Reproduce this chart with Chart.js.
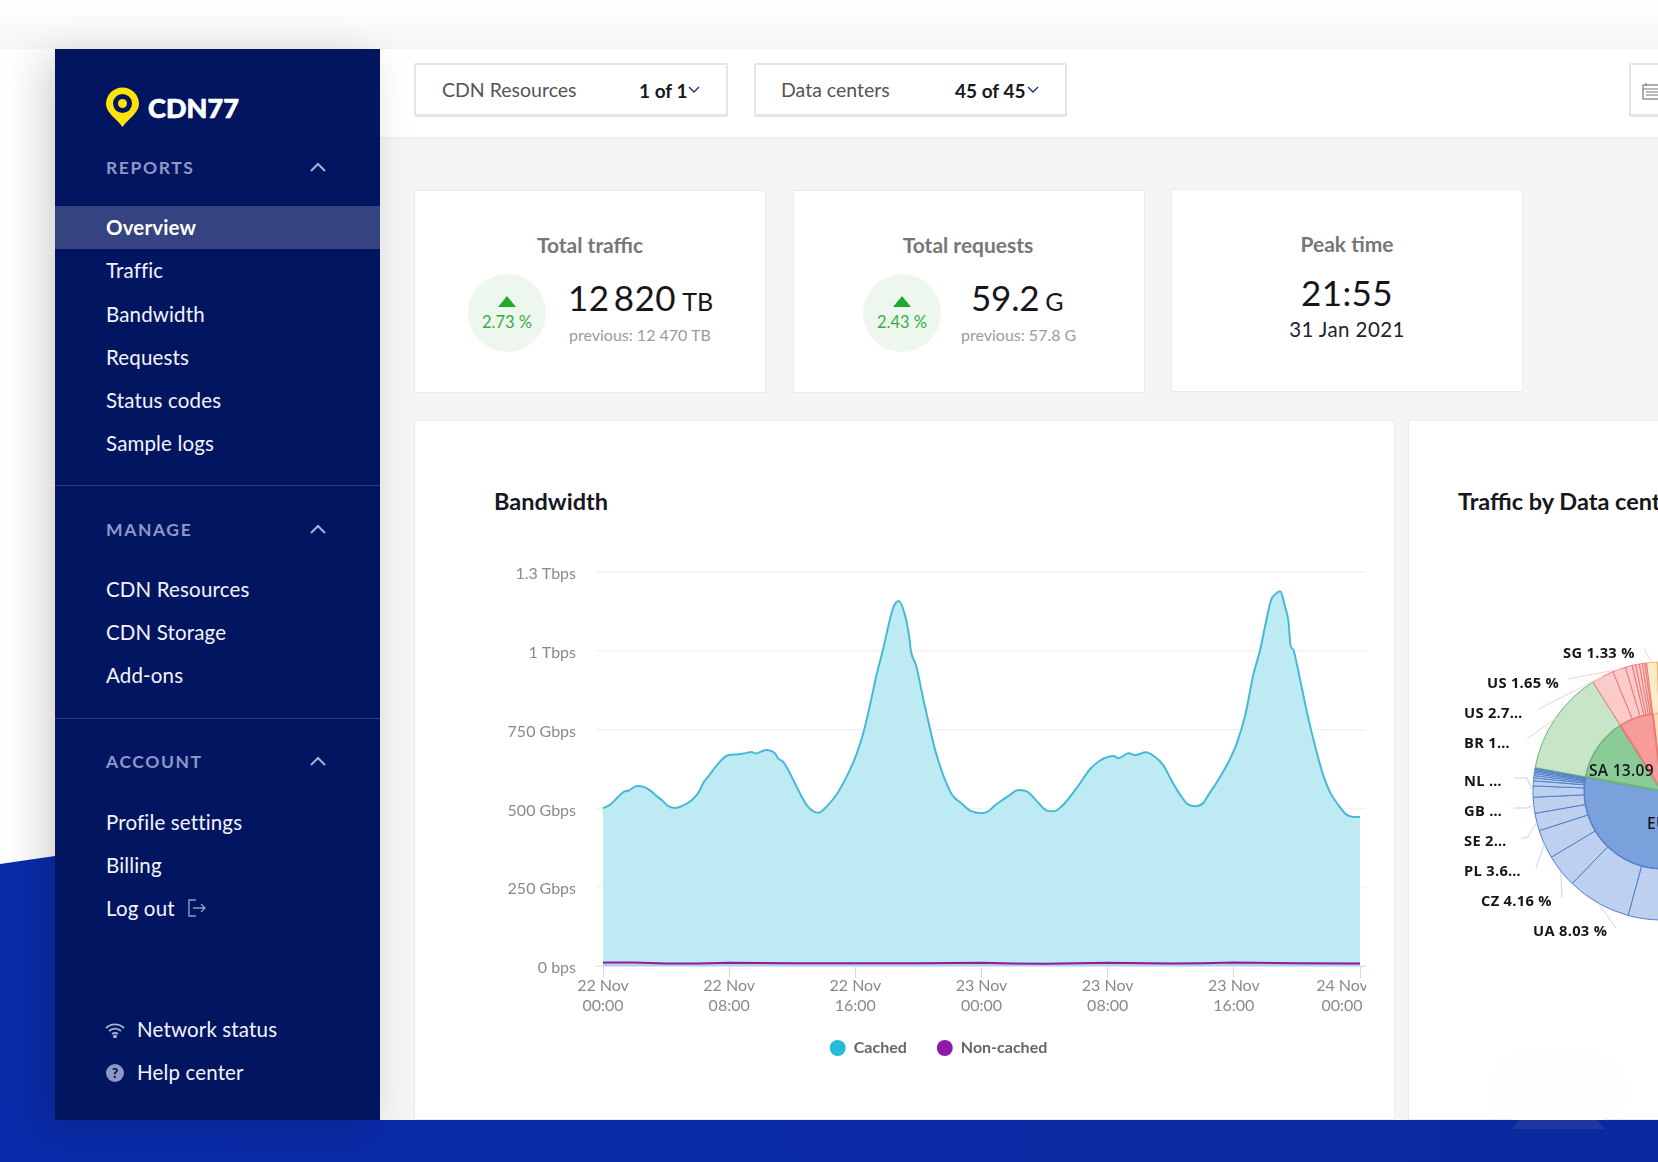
<!DOCTYPE html>
<html>
<head>
<meta charset="utf-8">
<title>CDN77 Overview</title>
<script src="https://cdn.jsdelivr.net/npm/chart.js@4"></script>
<style>
html, body { margin: 0; padding: 0; width: 1658px; height: 1162px; overflow: hidden; background: #fff; font-family: Lato, "Open Sans", sans-serif; }
.abs { position: absolute; }
.txt { position: absolute; white-space: nowrap; line-height: 1; transform: translateY(-50%); }
.ctr { transform: translate(-50%, -50%); }
#fade { left: 0; top: 0; width: 1658px; height: 49px; background: linear-gradient(#fff, #f6f6f6); }
#blue { left: 0; top: 0; width: 1658px; height: 1162px; background: linear-gradient(90deg, #0a2cab, #0a2aa0); clip-path: polygon(0 864px, 55px 856px, 55px 1120px, 1658px 1120px, 1658px 1162px, 0 1162px); }
#main { left: 380px; top: 49px; width: 1278px; height: 1071px; background: #f5f5f5; }
#topbar { left: 380px; top: 49px; width: 1278px; height: 88px; background: #fff; border-bottom: 2px solid #efefef; }
#side { left: 55px; top: 49px; width: 325px; height: 1071px; background: #021561; box-shadow: -12px 8px 40px rgba(0,0,0,.18); }
#active { left: 55px; top: 206px; width: 325px; height: 43px; background: #354480; }
.rule { left: 55px; width: 325px; height: 1px; background: #2c3c7c; }
.nav { left: 106px; color: #f2f4fa; font-size: 20.5px; letter-spacing: .15px; }
.head { left: 106px; color: #8d98c4; font-size: 17.5px; font-weight: 700; letter-spacing: 1.6px; }
.drop { height: 54px; top: 63px; background: #fff; border: 2px solid #e2e4e7; border-bottom-width: 3px; border-radius: 2px; box-sizing: border-box; }
.dl { color: #555; font-size: 19.5px; }
.dv { color: #16181f; font-size: 19px; font-weight: 700; }
.card { background: #fff; border: 1px solid #ececec; box-sizing: border-box; }
.ttl { color: #777; font-size: 21px; font-weight: 700; }
.badge { width: 78px; height: 78px; border-radius: 50%; background: #edf7ee; }
.tri { width: 0; height: 0; border-left: 9px solid transparent; border-right: 9px solid transparent; border-bottom: 11px solid #22a82f; }
.pct { color: #3aac47; font-size: 16.5px; }
.big { color: #15161c; font-size: 35px; letter-spacing: .4px; font-weight: 400; }
.big small { font-size: 25px; letter-spacing: 0; margin-left: -3px; }
.prev { color: #9b9b9b; font-size: 16px; }
h2.hd { margin: 0; color: #16181f; font-size: 23.5px; font-weight: 700; }
#bwWrap { left: 490px; top: 560px; width: 876px; height: 522px; overflow: hidden; }
#bwWrap canvas { position: absolute; left: 0; top: 0; }
#sunWrap { left: 1410px; top: 539px; width: 248px; height: 504px; overflow: hidden; }
#sunWrap canvas { position: absolute; left: 0; top: 0; }
#stand { left: 1507px; top: 1067px; width: 103px; height: 53px; background: #fdfdfd; border-radius: 8px; box-shadow: 0 0 28px rgba(0,0,0,.035); }
#foot { left: 1512px; top: 1120px; width: 93px; height: 9px; background: #20379f; clip-path: polygon(8px 0, 85px 0, 93px 9px, 0 9px); }
</style>
</head>
<body>
<div class="abs" id="fade"></div>
<div class="abs" id="blue"></div>
<div class="abs" id="main"></div>
<div class="abs" id="topbar"></div>
<div class="abs" id="side"></div>
<div class="abs" id="active"></div>
<div class="abs rule" style="top:485px"></div>
<div class="abs rule" style="top:718px"></div>

<svg class="abs" style="left:105px;top:87px" width="35" height="41" viewBox="0 0 35 41">
  <path d="M17.5 40 C12 32 1 26 1 17 A16.5 16.5 0 0 1 34 17 C34 26 23 32 17.5 40 Z" fill="#fde20c"/>
  <circle cx="17.5" cy="16.5" r="9.5" fill="#021561"/><circle cx="17.5" cy="16.5" r="4.5" fill="#fde20c"/>
</svg>
<div class="txt" style="left:148px;top:107px;color:#fff;font-size:27px;font-weight:900;letter-spacing:.1px;-webkit-text-stroke:.7px #fff">CDN77</div>

<div class="txt head" style="top:168px">REPORTS</div>
<div class="txt nav" style="top:227px;font-weight:700;color:#fff">Overview</div>
<div class="txt nav" style="top:270px">Traffic</div>
<div class="txt nav" style="top:313.5px">Bandwidth</div>
<div class="txt nav" style="top:356.5px">Requests</div>
<div class="txt nav" style="top:399.5px">Status codes</div>
<div class="txt nav" style="top:442.5px">Sample logs</div>
<div class="txt head" style="top:530px">MANAGE</div>
<div class="txt nav" style="top:589px">CDN Resources</div>
<div class="txt nav" style="top:632px">CDN Storage</div>
<div class="txt nav" style="top:675px">Add-ons</div>
<div class="txt head" style="top:762px">ACCOUNT</div>
<div class="txt nav" style="top:821.5px">Profile settings</div>
<div class="txt nav" style="top:865px">Billing</div>
<div class="txt nav" style="top:908px">Log out</div>
<div class="txt nav" style="top:1029px;left:137px">Network status</div>
<div class="txt nav" style="top:1072px;left:137px">Help center</div>

<svg class="abs" style="left:309px;top:161px" width="18" height="12"><path d="M2 10 L9 3 L16 10" fill="none" stroke="#a9b2d4" stroke-width="2"/></svg>
<svg class="abs" style="left:309px;top:523px" width="18" height="12"><path d="M2 10 L9 3 L16 10" fill="none" stroke="#a9b2d4" stroke-width="2"/></svg>
<svg class="abs" style="left:309px;top:755px" width="18" height="12"><path d="M2 10 L9 3 L16 10" fill="none" stroke="#a9b2d4" stroke-width="2"/></svg>
<svg class="abs" style="left:187px;top:898px" width="20" height="20" viewBox="0 0 20 20" fill="none" stroke="#8d98c4" stroke-width="1.4"><path d="M9 2 H2 V18 H9 M6 10 H18 M14 6 L18 10 L14 14"/></svg>
<svg class="abs" style="left:105px;top:1022px" width="20" height="16" viewBox="0 0 20 16" fill="none" stroke="#a9b2d4" stroke-width="1.8"><path d="M1 6 A13 13 0 0 1 19 6 M4 9 A9 9 0 0 1 16 9 M7 12 A5 5 0 0 1 13 12"/><circle cx="10" cy="14.5" r="1" fill="#a9b2d4"/></svg>
<div class="abs" style="left:106px;top:1064px;width:18px;height:18px;border-radius:50%;background:#8d98c4;color:#021561;font-size:14px;font-weight:900;line-height:18px;text-align:center">?</div>

<div class="abs drop" style="left:414px;width:314px"></div>
<div class="txt dl" style="left:442px;top:89.5px">CDN Resources</div>
<div class="txt dv" style="left:639px;top:89.5px">1 of 1</div>
<svg class="abs" style="left:688px;top:86px" width="12" height="8"><path d="M1 1 L6 6 L11 1" fill="none" stroke="#1b2a78" stroke-width="1.3"/></svg>
<div class="abs drop" style="left:754px;width:313px"></div>
<div class="txt dl" style="left:781px;top:89.5px">Data centers</div>
<div class="txt dv" style="left:955px;top:89.5px">45 of 45</div>
<svg class="abs" style="left:1027px;top:86px" width="12" height="8"><path d="M1 1 L6 6 L11 1" fill="none" stroke="#1b2a78" stroke-width="1.3"/></svg>
<div class="abs drop" style="left:1629px;width:60px"></div>
<svg class="abs" style="left:1642px;top:82px" width="16" height="18" viewBox="0 0 16 18" fill="none" stroke="#777" stroke-width="1.2"><rect x="1" y="3" width="20" height="14"/><path d="M1 7 H21 M4 1 V4 M4 10 H16 M4 13 H16" /></svg>

<div class="abs card" style="left:414px;top:190px;width:352px;height:203px"></div>
<div class="txt ttl ctr" style="left:590px;top:244px">Total traffic</div>
<div class="abs badge" style="left:468px;top:274px"></div>
<div class="abs tri" style="left:498px;top:296px"></div>
<div class="txt pct ctr" style="left:507px;top:322px">2.73 %</div>
<div class="txt big" style="left:568px;top:296.5px"><span style="word-spacing:-5px">12 820</span> <small>TB</small></div>
<div class="txt prev" style="left:569px;top:335px">previous: 12 470 TB</div>

<div class="abs card" style="left:793px;top:190px;width:352px;height:203px"></div>
<div class="txt ttl ctr" style="left:968px;top:244px">Total requests</div>
<div class="abs badge" style="left:863px;top:274px"></div>
<div class="abs tri" style="left:893px;top:296px"></div>
<div class="txt pct ctr" style="left:902px;top:322px">2.43 %</div>
<div class="txt big" style="left:971px;top:296.5px;letter-spacing:-.2px">59.2 <small>G</small></div>
<div class="txt prev" style="left:961px;top:335px">previous: 57.8 G</div>

<div class="abs card" style="left:1171px;top:189px;width:352px;height:203px"></div>
<div class="txt ttl ctr" style="left:1347px;top:243px">Peak time</div>
<div class="txt big ctr" style="left:1347px;top:292px">21:55</div>
<div class="txt ctr" style="left:1347px;top:329px;color:#22242b;font-size:20.5px;letter-spacing:.4px">31 Jan 2021</div>

<div class="abs card" style="left:414px;top:420px;width:981px;height:700px"></div>
<div class="abs card" style="left:1408px;top:420px;width:260px;height:700px"></div>
<h2 class="txt hd" style="left:494px;top:502px">Bandwidth</h2>
<h2 class="txt hd" style="left:1458px;top:502px">Traffic by Data centers</h2>
<div class="abs" id="stand"></div>
<div class="abs" id="foot"></div>

<div class="abs" id="bwWrap"><canvas id="bandwidth-chart" width="897" height="522"></canvas></div>
<div class="abs" id="sunWrap"><canvas id="sunburst-chart" width="504" height="504"></canvas></div>

<script>
// Bandwidth chart, hours since 22 Nov 00:00
const cachedHours = [0,0.44,0.87,1.33,1.61,2.14,2.56,2.98,3.4,3.78,4.14,4.57,4.99,5.62,6.05,6.36,6.79,7.25,7.89,8.48,8.9,9.43,9.64,10.34,10.91,11.12,11.44,12.07,12.6,13.02,13.64,14.29,14.82,15.56,16.09,16.51,16.93,17.36,17.78,18.1,18.41,18.75,19.15,19.41,19.53,19.85,20.32,20.74,21.06,21.59,22.11,22.75,23.28,24.02,24.44,24.86,25.29,25.81,26.34,26.94,27.51,28.14,28.61,29.09,30.04,30.89,31.52,32.37,32.68,33.32,33.74,34.42,35.01,35.5,36.07,36.6,37.06,37.59,38.08,38.39,39.03,39.66,40.19,40.72,41.25,41.67,41.99,42.37,42.62,42.94,43.25,43.47,43.59,43.78,43.99,44.31,44.73,45.16,45.68,46.11,46.64,47.12,47.59,48];
const cachedGbps = [501,511,532,553,556,571,569,557,539,524,507,501,507,526,550,581,609,639,668,671,674,679,674,685,674,658,647,590,537,504,486,512,545,612,674,740,828,927,1009,1080,1138,1158,1113,1047,998,954,844,751,685,603,545,515,493,485,491,510,525,543,558,552,523,493,491,507,565,625,652,666,659,675,669,678,663,639,587,543,514,507,518,543,592,647,707,795,927,1003,1080,1162,1179,1189,1140,1091,1018,1003,959,883,784,696,603,550,510,481,473,473];
const nonCachedHours = [0,2,4,6,8,12,16,20,24,26,28,32,36,38,40,44,48];
const nonCachedGbps = [11,11,8,8,10,9,9,9,10,8,7,10,8,9,11,9,8];
const tickHours = [0,8,16,24,32,40,48];
const tickDays = ['22 Nov','22 Nov','22 Nov','23 Nov','23 Nov','23 Nov','24 Nov'];
const tickTimes = ['00:00','08:00','16:00','00:00','08:00','16:00','00:00'];
const yTicks = [0,250,500,750,1000,1250];
const yTickLabels = ['0 bps','250 Gbps','500 Gbps','750 Gbps','1 Tbps','1.3 Tbps'];

// Sunburst, clockwise from the start of the orange group
const groupNames = ['AS','EU','SA','NA'];
const groupShares = [17.9,61.93,13.09,7.08];
const wedgeNames = ['SG','JP','HK','IN','KR','DE','FR','AT','IT','UA','CZ','PL','SE','GB','NL','RO','ES','HU','SK','BG','HR','CH','BE','DK','BR','US','US','CA','MX','US','US','US','US'];
const wedgeShares = [1.33,6.2,4.5,3.27,2.6,15.4,12.1,6.6,4.14,8.03,4.16,3.6,2.2,2,1.4,0.64,0.36,0.28,0.24,0.2,0.18,0.16,0.12,0.1,13.09,2.79,1.65,0.84,0.44,0.47,0.39,0.31,0.19];
const wedgeGroups = [0,0,0,0,0,1,1,1,1,1,1,1,1,1,1,1,1,1,1,1,1,1,1,1,2,3,3,3,3,3,3,3,3];

const groupFill = ['#fddcae','#7ba1dd','#8bcb97','#f69d9a'];
const groupEdge = ['#f7b65e','#4f80c9','#6bb57a','#ea7a75'];
const wedgeFill = ['#fee9cd','#bdd0ef','#c8e4c9','#fbcbca'];
const leaderColor = ['#fbd3c0','#c3d4ef','#c8e4c9','#f9cfcd'];
const legendColors = ['#27b9d8','#8e1aa6'];

const fontFamily = 'Lato, "Open Sans", sans-serif';

// the last tick label sits left of its tick and runs into the clip edge
const lastTickLabel = {
    id: 'lastTickLabel',
    afterDraw(chart) {
        const scale = chart.scales.x;
        const last = tickHours.length - 1;
        const ctx = chart.ctx;
        ctx.save();
        ctx.font = '16px ' + fontFamily;
        ctx.fillStyle = '#8a8a8a';
        ctx.textAlign = 'center';
        ctx.textBaseline = 'middle';
        const x = scale.getPixelForValue(tickHours[last]) - 18;
        ctx.fillText(tickDays[last], x, scale.top + 19.5);
        ctx.fillText(tickTimes[last], x, scale.top + 39.5);
        ctx.restore();
    }
};

// legend padding is wide for the gap between items, pull the row back up and across
const legendNudge = {
    id: 'legendNudge',
    afterLayout(chart) {
        chart.legend.top -= 16;
        chart.legend.left += 10.5;
        chart.legend.right += 10.5;
    }
};

new Chart(document.getElementById('bandwidth-chart'), {
    type: 'line',
    data: {
        datasets: [{
            label: 'Cached',
            data: cachedHours.map((h, i) => ({ x: h, y: cachedGbps[i] })),
            borderColor: '#45b9d6',
            backgroundColor: '#beebf3',
            borderWidth: 2,
            fill: 'origin',
            pointRadius: 0,
            cubicInterpolationMode: 'monotone',
            order: 1
        }, {
            label: 'Non-cached',
            data: nonCachedHours.map((h, i) => ({ x: h, y: nonCachedGbps[i] })),
            borderColor: '#8e1aa6',
            backgroundColor: 'rgba(142, 26, 166, 0.15)',
            borderWidth: 2,
            fill: 'origin',
            pointRadius: 0,
            tension: 0,
            order: 0
        }]
    },
    options: {
        responsive: false,
        animation: false,
        devicePixelRatio: 1,
        layout: { padding: { top: 12, right: 21, left: 0, bottom: 0 } },
        plugins: {
            tooltip: { enabled: false },
            legend: {
                position: 'bottom',
                labels: {
                    usePointStyle: true,
                    pointStyle: 'circle',
                    boxWidth: 16,
                    boxHeight: 11.3,
                    padding: 30,
                    color: '#666',
                    font: { family: fontFamily, size: 16, weight: '700' },
                    sort: (a, b) => a.datasetIndex - b.datasetIndex,
                    generateLabels(chart) {
                        return Chart.defaults.plugins.legend.labels.generateLabels(chart).map(item => ({
                            ...item,
                            fillStyle: legendColors[item.datasetIndex],
                            strokeStyle: legendColors[item.datasetIndex],
                            lineWidth: 0
                        }));
                    }
                }
            }
        },
        scales: {
            x: {
                type: 'linear',
                min: -0.444,
                max: 48.38,
                afterBuildTicks(scale) { scale.ticks = tickHours.map(v => ({ value: v })); },
                afterFit(scale) { scale.height = 60; scale.paddingLeft = 0; scale.paddingRight = 0; },
                grid: { drawOnChartArea: false, drawTicks: true, tickLength: 12, color: '#d5d8f0' },
                border: { display: true, color: '#dfe1f3' },
                ticks: {
                    autoSkip: false,
                    maxRotation: 0,
                    padding: -2,
                    color: '#8a8a8a',
                    font: { family: fontFamily, size: 16, lineHeight: 1.25 },
                    callback(value) {
                        const i = tickHours.indexOf(value);
                        return i === tickHours.length - 1 ? '' : [tickDays[i], tickTimes[i]];
                    }
                }
            },
            y: {
                min: 0,
                max: 1250,
                afterBuildTicks(scale) { scale.ticks = yTicks.map(v => ({ value: v })); },
                afterFit(scale) { scale.width = 106; scale.paddingTop = 0; scale.paddingBottom = 0; },
                grid: { color: '#f3f3f4', lineWidth: 1.5, drawTicks: false },
                border: { display: false },
                ticks: {
                    padding: 20,
                    labelOffset: 2,
                    color: '#8a8a8a',
                    font: { family: fontFamily, size: 16 },
                    callback: value => yTickLabels[yTicks.indexOf(value)]
                }
            }
        }
    },
    plugins: [lastTickLabel, legendNudge]
});

// callouts: wedge index, text, text position and elbow position in page pixels
const sunLeft = 1410, sunTop = 539;
const sunCallouts = [
    { wedge: 0, text: 'SG 1.33 %', x: 1563, y: 652, ex: 1644, ey: 649 },
    { wedge: 26, text: 'US 1.65 %', x: 1487, y: 682, ex: 1568, ey: 679 },
    { wedge: 25, text: 'US 2.7…', x: 1464, y: 712, ex: 1539, ey: 709 },
    { wedge: 24, text: 'BR 1…', x: 1464, y: 742, ex: 1527, ey: 739 },
    { wedge: 14, text: 'NL …', x: 1464, y: 780, ex: 1514, ey: 778, lx: 1527 },
    { wedge: 13, text: 'GB …', x: 1464, y: 810, ex: 1514, ey: 808, lx: 1527 },
    { wedge: 12, text: 'SE 2…', x: 1464, y: 840, ex: 1521, ey: 838, lx: 1527 },
    { wedge: 11, text: 'PL 3.6…', x: 1464, y: 870, ex: 1536, ey: 868 },
    { wedge: 10, text: 'CZ 4.16 %', x: 1481, y: 900, ex: 1562, ey: 898 },
    { wedge: 9, text: 'UA 8.03 %', x: 1533, y: 930, ex: 1616, ey: 928 }
];
const innerTexts = [
    { text: 'SA 13.09 %', x: 1589, y: 771, size: 15.5 },
    { text: 'EU', x: 1647, y: 824, size: 15.5 }
];

const sunLabels = {
    id: 'sunLabels',
    afterDraw(chart) {
        const ctx = chart.ctx;
        const arcs = chart.getDatasetMeta(0).data;
        ctx.save();
        sunCallouts.forEach(c => {
            const arc = arcs[c.wedge];
            const mid = (arc.startAngle + arc.endAngle) / 2;
            ctx.beginPath();
            ctx.moveTo(arc.x + Math.cos(mid) * arc.outerRadius, arc.y + Math.sin(mid) * arc.outerRadius);
            if (c.lx) ctx.lineTo(c.lx - sunLeft, c.ey - sunTop);
            ctx.lineTo(c.ex - sunLeft, c.ey - sunTop);
            ctx.strokeStyle = leaderColor[wedgeGroups[c.wedge]];
            ctx.lineWidth = 1;
            ctx.stroke();
        });
        ctx.restore();
    }
};

new Chart(document.getElementById('sunburst-chart'), {
    type: 'doughnut',
    data: {
        labels: wedgeNames,
        datasets: [{
            data: wedgeShares,
            weight: 51,
            backgroundColor: wedgeGroups.map(g => wedgeFill[g]),
            borderColor: wedgeGroups.map(g => groupEdge[g]),
            borderWidth: 1
        }, {
            data: groupShares,
            weight: 78,
            backgroundColor: groupFill,
            borderColor: groupEdge,
            borderWidth: 2
        }]
    },
    options: {
        responsive: false,
        animation: false,
        devicePixelRatio: 1,
        radius: 129,
        cutout: 0,
        rotation: -6.9,
        plugins: { legend: { display: false }, tooltip: { enabled: false } }
    },
    plugins: [sunLabels]
});

// the callout text stays as page text above the chart
sunCallouts.concat(innerTexts).forEach(c => {
    const el = document.createElement('div');
    el.className = 'txt';
    el.style.cssText = `left:${c.x}px;top:${c.y}px;color:#15161c;font-family:"Open Sans",sans-serif;font-size:${c.size || 14.7}px;font-weight:${c.size ? 600 : 700};letter-spacing:.3px`;
    el.textContent = c.text;
    document.body.appendChild(el);
});
</script>
</body>
</html>
